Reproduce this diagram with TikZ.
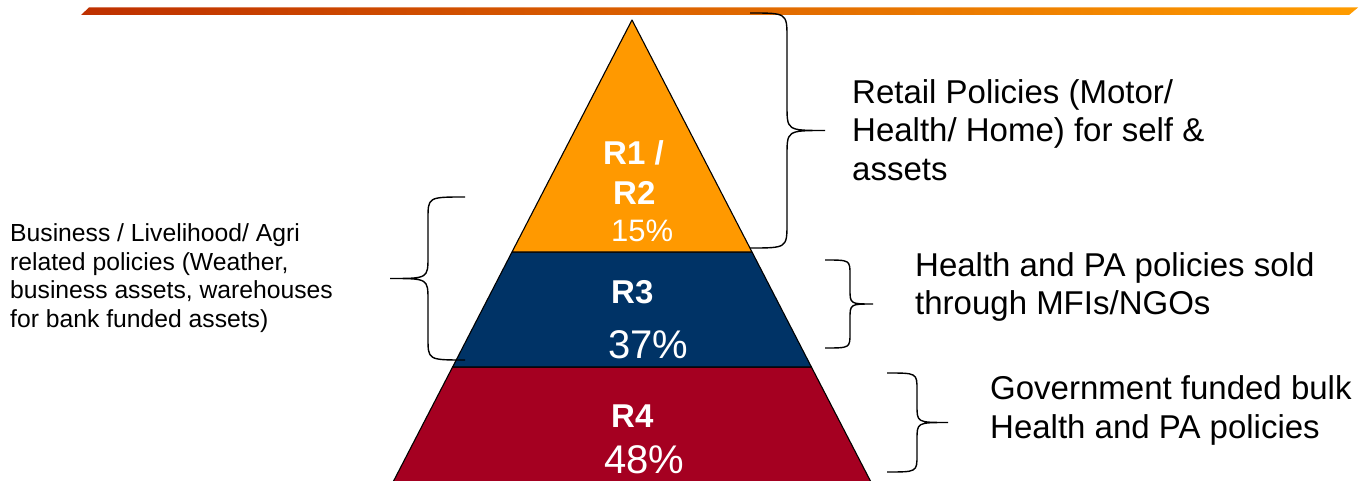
\documentclass[tikz,border=0pt]{standalone}
\usepackage{fontspec}
\setmainfont{Liberation Sans}
\definecolor{pyrorange}{HTML}{FF9900}
\definecolor{pyrnavy}{HTML}{003366}
\definecolor{pyrred}{HTML}{A50021}
\definecolor{barleft}{HTML}{BE3000}
\definecolor{barright}{HTML}{FF9C00}
% x0, ytop, ybot, xspine, xtip, r
\newcommand{\mybrace}[6]{%
  \pgfmathsetmacro\bym{(#2+#3)/2}%
  \draw[bracestyle] (#1,#2) .. controls (#4,#2) .. (#4,#2+#6) -- (#4,\bym-#6)
    .. controls (#4,\bym) .. (#5,\bym) .. controls (#4,\bym) .. (#4,\bym+#6)
    -- (#4,#3-#6) .. controls (#4,#3) .. (#1,#3);%
}
\begin{document}
\begin{tikzpicture}[x=1pt,y=-1pt,
  layer/.style={draw=black, line width=1.1pt, line join=round},
  bracestyle/.style={draw=black, line width=1.4pt},
  lbl/.style={inner sep=0pt, anchor=base west},
  rlabel/.style={lbl, text=white, font=\bfseries\fontsize{33}{38}\selectfont},
  pct/.style={lbl, text=white, font=\fontsize{40}{46}\selectfont},
  pctsmall/.style={lbl, text=white, font=\fontsize{31}{36}\selectfont},
  desc/.style={lbl, text=black, font=\fontsize{33}{38}\selectfont},
  smalldesc/.style={lbl, text=black, font=\fontsize{24.7}{28.4}\selectfont}]
\useasboundingbox (0,0) rectangle (1365,481);
\clip (0,0) rectangle (1365,481);
% top bar
\shade[left color=barleft, right color=barright]
  (89,7.5) -- (1358,7.5) -- (1349,15) -- (81,15) -- cycle;
% pyramid
\coordinate (apex) at (632,20);
\coordinate (ol) at (512,252);
\coordinate (or) at (752,252);
\coordinate (nl) at (452.6,367);
\coordinate (nr) at (811.4,367);
\coordinate (rl) at (391.5,485);
\coordinate (rr) at (872.5,485);
\filldraw[layer, fill=pyrred] (nl) -- (nr) -- (rr) -- (rl) -- cycle;
\filldraw[layer, fill=pyrnavy] (ol) -- (or) -- (nr) -- (nl) -- cycle;
\filldraw[layer, fill=pyrorange] (apex) -- (or) -- (ol) -- cycle;
% pyramid labels
\node[rlabel] (r1) at (603,165) {R1 /};
\node[rlabel] (r2) at (613,204.5) {R2};
\node[pctsmall] (p1) at (611,241.5) {15\%};
\node[rlabel] (r3) at (611,303) {R3};
\node[pct] (p3) at (608,358) {37\%};
\node[rlabel] (r4) at (611,427) {R4};
\node[pct] (p4) at (604,473) {48\%};
% braces
\mybrace{750}{13}{248}{787}{825}{25}
\mybrace{465}{197}{360}{428}{390}{22}
\mybrace{825}{260}{348}{850}{873}{15}
\mybrace{887}{373}{472}{917}{948}{17}
% descriptions
\node[desc] (ret1) at (852,103.5) {Retail Policies (Motor/};
\node[desc] (ret2) at (852,142) {Health/ Home) for self \&};
\node[desc] (ret3) at (852,180.5) {assets};
\node[desc] (mfi1) at (915,276) {Health and PA policies sold};
\node[desc] (mfi2) at (915,314) {through MFIs/NGOs};
\node[desc] (gov1) at (990,399) {Government funded bulk};
\node[desc] (gov2) at (990,438.5) {Health and PA policies};
\node[smalldesc] (bus1) at (10,241) {Business / Livelihood/ Agri};
\node[smalldesc] (bus2) at (10,270) {related policies (Weather,};
\node[smalldesc] (bus3) at (10,298.5) {business assets, warehouses};
\node[smalldesc] (bus4) at (10,327.5) {for bank funded assets)};
\end{tikzpicture}
\end{document}
